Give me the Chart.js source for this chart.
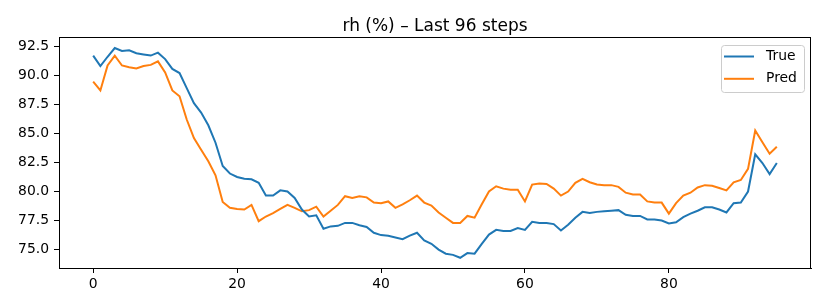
<!DOCTYPE html>
<html>
<head>
<meta charset="utf-8">
<script src="https://cdn.jsdelivr.net/npm/chart.js@4"></script>
<style>
  html, body { margin: 0; padding: 0; background: #fff; }
  #wrap { width: 830px; height: 300px; }
</style>
</head>
<body>
<div id="wrap"><canvas id="chart" width="830" height="300"></canvas></div>
<script>
const title = 'rh (%) – Last 96 steps';
const seriesNames = ['True', 'Pred'];
const seriesColors = ['#1f77b4', '#ff7f0e'];

// step index 0..95
const steps = Array.from({ length: 96 }, (_, i) => i);

const trueVals = [
  91.7, 90.8, 91.6, 92.35, 92.1, 92.15, 91.9, 91.8, 91.7, 91.95,
  91.4, 90.55, 90.2, 88.9, 87.6, 86.8, 85.7, 84.2, 82.2, 81.55,
  81.25, 81.1, 81.05, 80.75, 79.65, 79.65, 80.1, 80.0, 79.45, 78.45,
  77.85, 77.95, 76.8, 77.0, 77.05, 77.3, 77.3, 77.1, 76.95, 76.45,
  76.25, 76.2, 76.05, 75.9, 76.2, 76.45, 75.8, 75.5, 75.0, 74.65,
  74.55, 74.3, 74.7, 74.65, 75.5, 76.3, 76.7, 76.6, 76.6, 76.85,
  76.7, 77.4, 77.3, 77.3, 77.2, 76.65, 77.15, 77.75, 78.25, 78.15,
  78.25, 78.3, 78.35, 78.4, 78.0, 77.9, 77.9, 77.6, 77.6, 77.5,
  77.25, 77.35, 77.8, 78.1, 78.35, 78.65, 78.65, 78.45, 78.2, 79.0,
  79.05, 80.0, 83.2, 82.45, 81.5, 82.45
];

const predVals = [
  89.45, 88.7, 90.85, 91.7, 90.85, 90.7, 90.6, 90.8, 90.9, 91.2,
  90.25, 88.7, 88.2, 86.2, 84.6, 83.6, 82.6, 81.4, 79.1, 78.6,
  78.5, 78.45, 78.85, 77.45, 77.85, 78.15, 78.5, 78.85, 78.6, 78.3,
  78.4, 78.7, 77.85, 78.35, 78.85, 79.6, 79.45, 79.6, 79.5, 79.05,
  79.0, 79.15, 78.6, 78.9, 79.25, 79.65, 79.05, 78.8, 78.2, 77.75,
  77.3, 77.3, 77.9, 77.75, 78.9, 80.0, 80.45, 80.25, 80.15, 80.15,
  79.15, 80.6, 80.7, 80.65, 80.25, 79.65, 80.0, 80.75, 81.1, 80.8,
  80.6, 80.55, 80.55, 80.4, 79.9, 79.75, 79.75, 79.15, 79.05, 79.05,
  78.1, 79.0, 79.65, 79.9, 80.35, 80.55, 80.5, 80.3, 80.1, 80.8,
  81.0, 81.95, 85.25, 84.25, 83.25, 83.85
];

const xTicks = [0, 20, 40, 60, 80];
const yTicks = [75.0, 77.5, 80.0, 82.5, 85.0, 87.5, 90.0, 92.5];
const xRange = [-4.75, 99.75];
const yRange = [73.42, 93.3];

const FONT = 'DejaVu Sans';

// title centred over the axes, plus the box around them (matplotlib spines)
const frame = {
  id: 'frame',
  afterDatasetsDraw(chart){
    const a = chart.chartArea, c = chart.ctx;
    c.save();
    c.strokeStyle = '#000';
    c.lineWidth = 1;
    c.strokeRect(Math.round(a.left) + 0.5, Math.round(a.top) + 0.5,
      Math.round(a.right - a.left) - 1, Math.round(a.bottom - a.top));
    c.fillStyle = '#000';
    c.font = '17px ' + FONT;
    c.textAlign = 'center';
    c.textBaseline = 'alphabetic';
    c.fillText(title, (a.left + a.right) / 2, 31);
    c.restore();
  }
};

// legend in the upper right corner inside the axes
const innerLegend = {
  id: 'innerLegend',
  afterDraw(chart){
    const a = chart.chartArea, c = chart.ctx;
    const w = 83, h = 47;
    const x = a.right - 7 - w, y = a.top + 8;
    c.save();
    c.fillStyle = 'rgba(255,255,255,0.8)';
    c.strokeStyle = '#cccccc';
    c.lineWidth = 1;
    c.beginPath();
    c.roundRect(x + 0.5, y + 0.5, w, h, 3);
    c.fill();
    c.stroke();
    c.font = '13.9px ' + FONT;
    c.textBaseline = 'middle';
    chart.data.datasets.forEach((ds, i) => {
      const ly = y + 11.5 + i * 22.3;
      c.strokeStyle = ds.borderColor;
      c.lineWidth = 2;
      c.beginPath();
      c.moveTo(x + 3, ly);
      c.lineTo(x + 33, ly);
      c.stroke();
      c.fillStyle = '#000';
      c.fillText(ds.label, x + 45, ly);
    });
    c.restore();
  }
};

new Chart(document.getElementById('chart'), {
  type: 'line',
  data: {
    datasets: [
      { label: seriesNames[0], data: steps.map((s, i) => ({ x: s, y: trueVals[i] })),
        borderColor: seriesColors[0], borderWidth: 2, pointRadius: 0, tension: 0, fill: false },
      { label: seriesNames[1], data: steps.map((s, i) => ({ x: s, y: predVals[i] })),
        borderColor: seriesColors[1], borderWidth: 2, pointRadius: 0, tension: 0, fill: false }
    ]
  },
  options: {
    responsive: false,
    animation: false,
    layout: { padding: { left: 0, right: 19, top: 37, bottom: 0 } },
    plugins: {
      legend: { display: false },
      tooltip: { enabled: false },
      title: { display: false }
    },
    scales: {
      x: {
        type: 'linear',
        min: xRange[0], max: xRange[1],
        afterBuildTicks: s => { s.ticks = xTicks.map(v => ({ value: v })); },
        afterFit: s => { s.height = 32; },
        grid: { display: true, drawOnChartArea: false, drawTicks: true, tickLength: 5, color: '#000' },
        border: { display: true, color: '#000', width: 1 },
        ticks: { color: '#000', font: { family: FONT, size: 13.9 }, padding: 3, maxRotation: 0,
          callback: v => String(v) }
      },
      y: {
        min: yRange[0], max: yRange[1],
        afterBuildTicks: s => { s.ticks = yTicks.map(v => ({ value: v })); },
        afterFit: s => { s.width = 59; },
        grid: { display: true, drawOnChartArea: false, drawTicks: true, tickLength: 5, color: '#000' },
        border: { display: true, color: '#000', width: 1 },
        ticks: { color: '#000', font: { family: FONT, size: 13.9 }, padding: 5,
          callback: v => Number(v).toFixed(1) }
      }
    }
  },
  plugins: [frame, innerLegend]
});
</script>
</body>
</html>
